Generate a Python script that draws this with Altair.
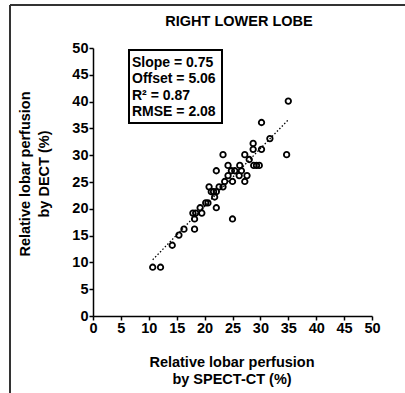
import altair as alt
import pandas as pd

spect = [35.0, 30.2, 34.7, 31.7, 28.7, 28.7, 30.2, 23.3, 27.2, 28.0, 24.2, 26.3,
         28.8, 29.3, 29.8, 22.1, 24.8, 25.4, 26.6, 24.2, 26.2, 27.6, 23.6, 25.0,
         27.2, 20.8, 22.6, 23.3, 21.2, 21.6, 22.1, 21.8, 20.2, 20.6, 19.2, 22.1,
         17.9, 18.4, 19.5, 18.2, 25.0, 16.3, 18.2, 15.4, 14.2, 10.7, 12.1]
dect = [40.1, 36.1, 30.1, 33.1, 32.2, 31.1, 31.1, 30.1, 30.1, 29.2, 28.1, 28.1,
        28.1, 28.1, 28.1, 27.1, 27.1, 27.1, 27.1, 26.2, 26.2, 26.2, 25.1, 25.1,
        25.1, 24.1, 24.1, 24.1, 23.2, 23.2, 23.2, 22.2, 21.1, 21.1, 20.2, 20.2,
        19.2, 19.2, 19.2, 18.1, 18.1, 16.2, 16.2, 15.1, 13.2, 9.1, 9.1]
fit_x = [10.7, 34.9]
fit_y = [10.5, 36.5]
ticks = [0, 5, 10, 15, 20, 25, 30, 35, 40, 45, 50]
stats = ["Slope = 0.75", "Offset = 5.06", "R\u00b2 = 0.87", "RMSE = 2.08"]

FONT = "Liberation Sans"
W, H = 279, 268

pts = pd.DataFrame({"x": spect, "y": dect})
fit = pd.DataFrame({"x": fit_x, "y": fit_y})

xs = alt.Scale(domain=[0, 50], nice=False, zero=True)
ys = alt.Scale(domain=[0, 50], nice=False, zero=True)

axis_kw = dict(values=ticks, grid=False, title=None, domainColor="black", domainWidth=1.5,
               tickColor="black", tickWidth=1.5, tickSize=4, labelFont=FONT, labelFontSize=14.5,
               labelFontWeight="bold", labelColor="black", labelPadding=1, labelFlush=False,
               labelOverlap=False, labelBound=False)

points = alt.Chart(pts).mark_point(shape="circle", filled=False, color="black",
                                   strokeWidth=1.8, size=30, opacity=1).encode(
    x=alt.X("x:Q", scale=xs, axis=alt.Axis(**axis_kw)),
    y=alt.Y("y:Q", scale=ys, axis=alt.Axis(**axis_kw)),
)

line = alt.Chart(fit).mark_line(color="black", strokeWidth=1.3, strokeDash=[1.5, 2]).encode(
    x=alt.X("x:Q", scale=xs, axis=alt.Axis(**axis_kw)),
    y=alt.Y("y:Q", scale=ys, axis=alt.Axis(**axis_kw)),
)

one = pd.DataFrame({"a": [0]})

box = alt.Chart(one).mark_rect(
    fill="white", stroke="black", strokeWidth=2).encode(
    x=alt.value(36), x2=alt.value(129), y=alt.value(2), y2=alt.value(75))

def txt(s, x, y, angle=None, align="center", size=14.5):
    kw = dict(font=FONT, fontSize=size, fontWeight="bold", color="black", align=align,
              baseline="middle")
    if angle is not None:
        kw["angle"] = angle
    return alt.Chart(pd.DataFrame({"t": [s]})).mark_text(**kw).encode(
        text="t:N", x=alt.value(x), y=alt.value(y))

stat_layers = [txt(s, 39, 15 + i * 16.3, align="left", size=14) for i, s in enumerate(stats)]

frame_left = alt.Chart(one).mark_rule(color="#333", strokeWidth=2).encode(
    x=alt.value(-83), y=alt.value(-43), y2=alt.value(H + 80))
frame_top = alt.Chart(one).mark_rule(color="#333", strokeWidth=2).encode(
    x=alt.value(-83), x2=alt.value(W + 40), y=alt.value(-43))

title = txt("RIGHT LOWER LOBE", 146, -26)
xt1 = txt("Relative lobar perfusion", 139, H + 47)
xt2 = txt("by SPECT-CT (%)", 139, H + 64)
yt1 = txt("Relative lobar perfusion", -67, 126, angle=270)
yt2 = txt("by DECT (%)", -48, 126, angle=270)

chart = alt.layer(points, line, frame_left, frame_top, box, *stat_layers, title,
                  xt1, xt2, yt1, yt2).properties(
    width=W, height=H,
    padding={"left": 93, "top": 48, "right": 405 - 93 - W, "bottom": 393 - 48 - H},
    autosize=alt.AutoSizeParams(type="none"),
    background="white",
).configure_view(stroke=None)

chart.save("out.html", embed_options={"renderer": "svg", "actions": False})
